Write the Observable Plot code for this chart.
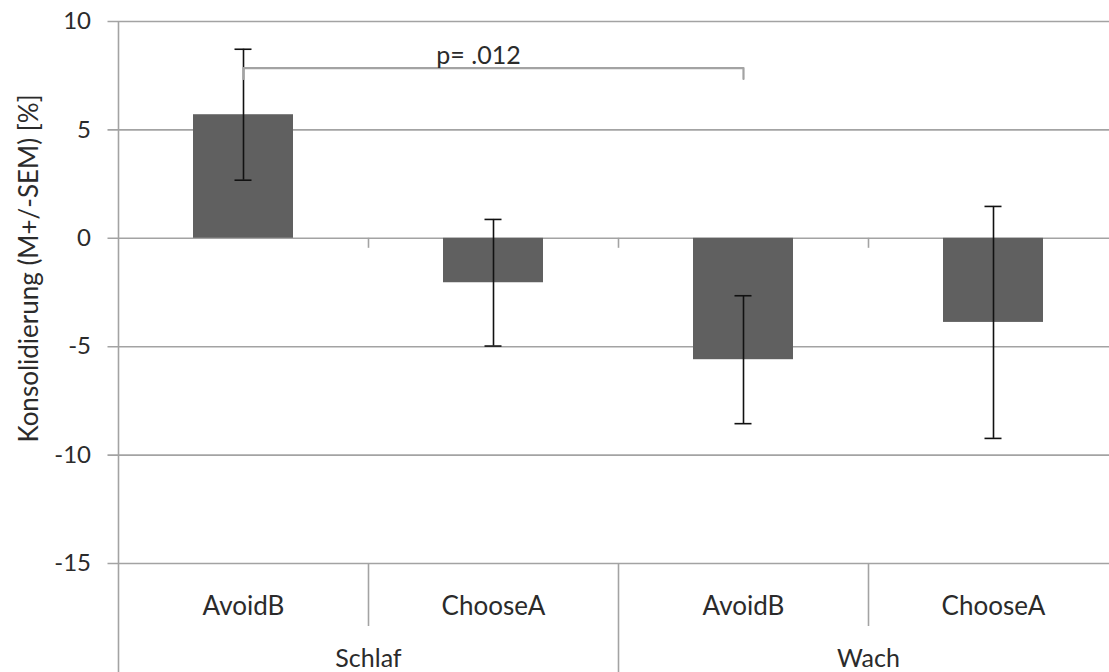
<!DOCTYPE html>
<html>
<head>
<meta charset="utf-8">
<script src="https://cdn.jsdelivr.net/npm/d3@7"></script>
<script src="https://cdn.jsdelivr.net/npm/@observablehq/plot@0.6"></script>
<style>
  html, body { margin: 0; padding: 0; background: #fff; overflow: hidden; }
</style>
</head>
<body>
<div id="chart"></div>
<script>
// ---- data ----
const subcategories = ["AvoidB", "ChooseA", "AvoidB", "ChooseA"];
const groups = ["Schlaf", "Schlaf", "Wach", "Wach"];
const means = [5.7, -2.05, -5.6, -3.88];
const sems = [3.02, 2.92, 2.95, 5.35];
const yTicks = [10, 5, 0, -5, -10, -15];
const yLabel = "Konsolidierung (M+/-SEM) [%]";
const pLabel = "p= .012";
const bracketLevel = 7.85;
const bracketHook = 7.35;

const data = subcategories.map((s, i) => ({
  key: groups[i] + " " + s, sub: s, group: groups[i], mean: means[i], sem: sems[i]
}));
const keys = data.map(d => d.key);
const groupData = data.filter(d => d.sub === "AvoidB");
const bracket = [
  {key: keys[0], v: bracketHook}, {key: keys[0], v: bracketLevel},
  {key: keys[2], v: bracketLevel}, {key: keys[2], v: bracketHook}
];

const grid = "#a3a3a3";
const ink = "#2b2b2b";
const half = 125; // half of a category step

const chart = Plot.plot({
  width: 1109,
  height: 672,
  marginLeft: 117.5,
  marginRight: -8.5,
  marginTop: 21,
  marginBottom: 109,
  style: {fontFamily: "Lato, sans-serif", fontSize: "24px", color: ink, background: "#fff", overflow: "visible"},
  x: {domain: keys, paddingInner: 0.6, paddingOuter: 0.3, axis: null},
  y: {domain: [-15, 10], axis: null},
  marks: [
    // horizontal gridlines (extend left as ticks)
    Plot.ruleY(yTicks, {stroke: grid, strokeWidth: 1.6, insetLeft: -10}),
    // y tick labels
    Plot.axisY({ticks: yTicks, tickSize: 0, tickPadding: 27, fontSize: 24, label: null, tickFormat: d => String(d)}),
    // left axis line
    Plot.ruleX([keys[0]], {dx: -half, y1: 10, y2: -15, insetBottom: -109, stroke: grid, strokeWidth: 1.6}),
    // small ticks on the zero line at category boundaries
    Plot.ruleX(keys.slice(1), {dx: -half, y1: 0, y2: 0, insetBottom: -10, stroke: grid, strokeWidth: 1.6}),
    // separators under subcategories
    Plot.ruleX(data.filter(d => d.sub === "ChooseA"), {x: "key", dx: -half, y1: -15, y2: -15, insetBottom: -63, stroke: grid, strokeWidth: 1.6}),
    // separator between groups
    Plot.ruleX([keys[2]], {dx: -half, y1: -15, y2: -15, insetBottom: -109, stroke: grid, strokeWidth: 1.6}),
    // bars
    Plot.barY(data, {x: "key", y: "mean", fill: "#606060"}),
    // error bars
    Plot.ruleX(data, {x: "key", y1: d => d.mean - d.sem, y2: d => d.mean + d.sem, stroke: "#111", strokeWidth: 1.6}),
    Plot.tickY(data, {x: "key", y: d => d.mean - d.sem, stroke: "#111", strokeWidth: 1.6, insetLeft: 41.5, insetRight: 41.5}),
    Plot.tickY(data, {x: "key", y: d => d.mean + d.sem, stroke: "#111", strokeWidth: 1.6, insetLeft: 41.5, insetRight: 41.5}),
    // significance bracket
    Plot.line(bracket, {x: "key", y: "v", stroke: grid, strokeWidth: 2.2}),
    Plot.text([pLabel], {x: () => keys[1], y: bracketLevel, text: d => d, dx: -15, dy: -12, fontSize: 25, fill: ink}),
    // category labels
    Plot.text(data, {x: "key", y: -15, text: "sub", dy: 43, fontSize: 26, fill: ink}),
    Plot.text(groupData, {x: "key", y: -15, text: "group", dx: half, dy: 95, fontSize: 25, fill: ink}),
    // y axis title
    Plot.text([yLabel], {frameAnchor: "left", textAnchor: "middle", text: d => d, rotate: -90, dx: -88, dy: -24, fontSize: 26, fill: ink})
  ]
});
document.getElementById("chart").append(chart);
</script>
</body>
</html>
